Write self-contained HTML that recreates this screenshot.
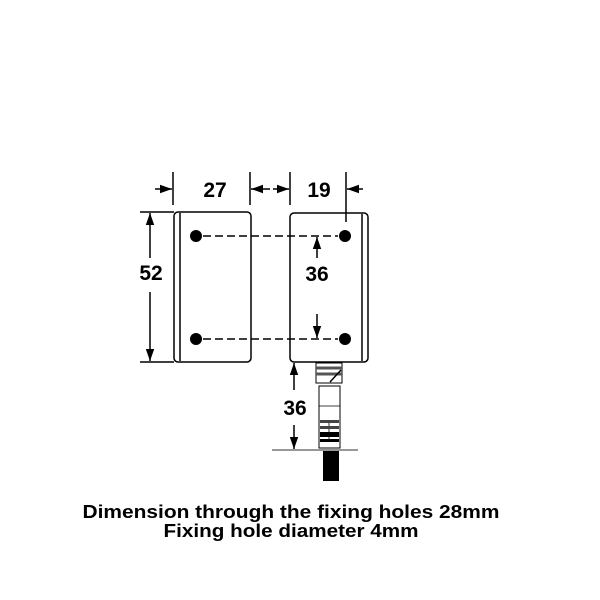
<!DOCTYPE html>
<html><head><meta charset="utf-8"><style>html,body{margin:0;padding:0;background:#fff}svg{display:block}</style></head>
<body>
<svg width="600" height="600" viewBox="0 0 600 600" xmlns="http://www.w3.org/2000/svg" font-family="Liberation Sans, Arial, sans-serif" font-weight="bold">
<defs>
<marker id="a" viewBox="0 0 10 10" refX="10" refY="5" markerWidth="8" markerHeight="8" orient="auto-start-reverse"><path d="M0,1.5 L10,5 L0,8.5 z" fill="#000"/></marker>
</defs>
<rect width="600" height="600" fill="#fff"/>
<g stroke="#000" stroke-width="1.5" fill="none">
<rect x="174" y="212" width="77" height="150" rx="4"/>
<line x1="180" y1="213" x2="180" y2="361"/>
<rect x="290" y="213" width="78" height="149" rx="4"/>
<line x1="362" y1="214" x2="362" y2="361"/>
<line x1="203" y1="236" x2="338" y2="236" stroke-dasharray="8,4"/>
<line x1="203" y1="339" x2="338" y2="339" stroke-dasharray="8,4"/>
<line x1="140" y1="212" x2="174" y2="212"/>
<line x1="140" y1="362" x2="174" y2="362"/>
<line x1="150" y1="258" x2="150" y2="213" marker-end="url(#a)"/>
<line x1="150" y1="292" x2="150" y2="361" marker-end="url(#a)"/>
<line x1="173" y1="172" x2="173" y2="205"/>
<line x1="250" y1="172" x2="250" y2="205"/>
<line x1="155" y1="189" x2="172" y2="189" marker-end="url(#a)"/>
<line x1="270" y1="189" x2="251" y2="189" marker-end="url(#a)"/>
<line x1="290" y1="172" x2="290" y2="205"/>
<line x1="346" y1="172" x2="346" y2="222"/>
<line x1="273" y1="189" x2="289" y2="189" marker-end="url(#a)"/>
<line x1="363" y1="189" x2="347" y2="189" marker-end="url(#a)"/>
<line x1="317" y1="258" x2="317" y2="237" marker-end="url(#a)"/>
<line x1="317" y1="314" x2="317" y2="338" marker-end="url(#a)"/>
<line x1="294" y1="390" x2="294" y2="363" marker-end="url(#a)"/>
<line x1="294" y1="425" x2="294" y2="449" marker-end="url(#a)"/>
<line x1="272" y1="450" x2="358" y2="450" stroke="#777"/>
<rect x="316" y="363" width="26" height="20" stroke-width="1"/>
<line x1="316" y1="368" x2="342" y2="368" stroke-width="3" stroke="#555"/>
<line x1="316" y1="374" x2="342" y2="374" stroke-width="3" stroke="#555"/>
<line x1="330" y1="382" x2="341" y2="370" stroke-width="1.5"/>
<rect x="319" y="386" width="21" height="62" stroke-width="1"/>
<line x1="319" y1="406" x2="340" y2="406" stroke-width="0.8"/>
<line x1="329" y1="420" x2="329" y2="442" stroke-width="0.8"/>
</g>
<g fill="#000">
<circle cx="196" cy="236" r="6"/><circle cx="196" cy="339" r="6"/>
<circle cx="345" cy="236" r="6"/><circle cx="345" cy="339" r="6"/>
<rect x="320" y="420" width="19" height="3" fill="#444"/>
<rect x="320" y="426" width="19" height="3" fill="#444"/>
<rect x="320" y="432" width="19" height="5"/>
<rect x="320" y="439" width="19" height="3"/>
<rect x="323" y="451" width="16" height="30"/>
</g>
<g font-size="21" text-anchor="middle" fill="#000">
<text x="215" y="197">27</text>
<text x="319" y="197">19</text>
<text x="151" y="280">52</text>
<text x="317" y="281">36</text>
<text x="295" y="415">36</text>
</g>
<g font-size="18" text-anchor="middle" fill="#000">
<text x="291" y="518" textLength="417" lengthAdjust="spacingAndGlyphs">Dimension through the fixing holes 28mm</text>
<text x="291" y="537" textLength="255" lengthAdjust="spacingAndGlyphs">Fixing hole diameter 4mm</text>
</g>
</svg>
</body></html>
